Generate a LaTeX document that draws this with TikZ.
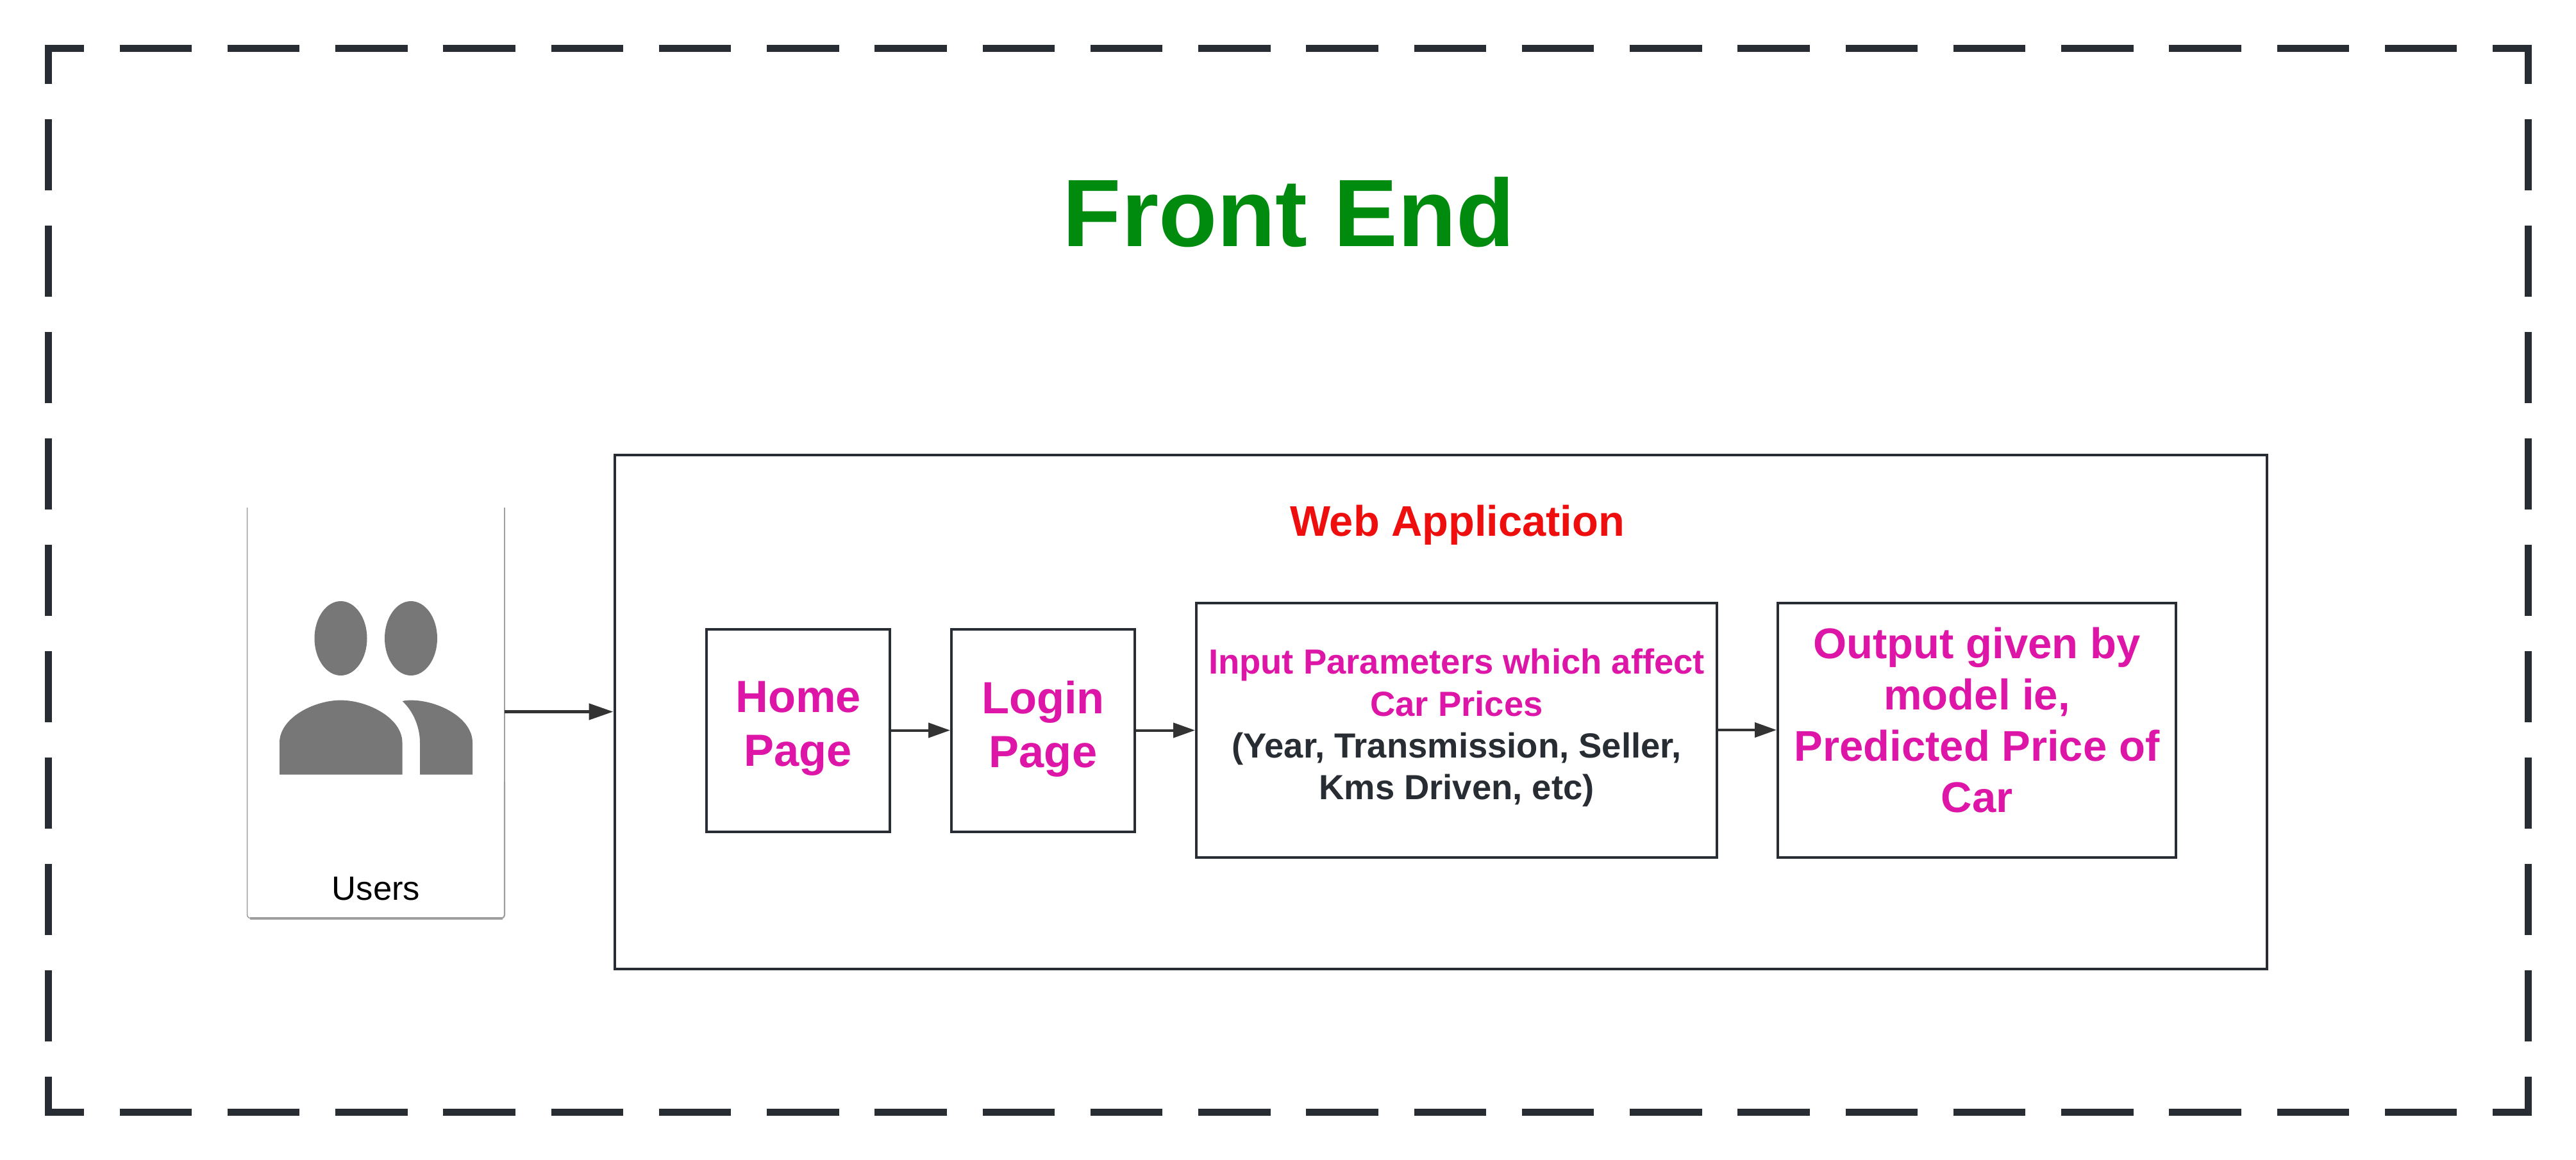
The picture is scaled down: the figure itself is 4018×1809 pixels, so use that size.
\documentclass[tikz,border=0pt]{standalone}
\usepackage{fontspec}
\setmainfont{Liberation Sans}
\usetikzlibrary{arrows.meta}
\definecolor{framec}{HTML}{282C33}
\definecolor{arrowc}{HTML}{333333}
\definecolor{magentac}{HTML}{DD16A8}
\definecolor{greenc}{HTML}{008A0E}
\definecolor{redc}{HTML}{EE0E0E}
\definecolor{iconc}{HTML}{777777}
\definecolor{cardc}{HTML}{9E9E9E}
\tikzset{
  frameh/.style={draw=framec,line width=5.5pt,line cap=butt,dash pattern=on 56.25pt off 27.87pt,dash phase=25.75pt},
  framev/.style={draw=framec,line width=5.5pt,line cap=butt,dash pattern=on 55.5pt off 27.5pt,dash phase=25pt},
  boxnode/.style={draw=framec,line width=2pt,fill=white,inner sep=0pt,align=center,font=\bfseries},
  flow/.style={draw=arrowc,line width=2pt,-{Triangle[length=17pt,width=11.5pt]}},
  flowbig/.style={draw=arrowc,line width=2.4pt,-{Triangle[length=19pt,width=12.5pt]}},
  cardline/.style={draw=cardc,line cap=butt},
}
\begin{document}
\begin{tikzpicture}[x=0.5pt,y=-0.5pt]
\useasboundingbox (0,0) rectangle (4018,1809);
% dashed outer frame
\path[frameh] (70,75.5) -- (3949,75.5);
\path[frameh] (70,1735.5) -- (3949,1735.5);
\path[framev] (75.5,70) -- (75.5,1741);
\path[framev] (3943.5,70) -- (3943.5,1741);
% title
\node[anchor=base,font=\fontsize{74.7}{80}\selectfont\bfseries,text=greenc,inner sep=0pt] (title) at (2010.5,384) {Front End};
% web application container
\node[boxnode,minimum width=1288.5pt,minimum height=401pt] (web) at (2247,1110.5) {};
\node[anchor=base,font=\fontsize{33.4}{40}\selectfont\bfseries,text=redc,inner sep=0pt] (webt) at (2273,836) {Web Application};
% users card
\node[minimum width=201pt,minimum height=321pt,inner sep=0pt] (users) at (586,1113) {};
\draw[cardline,line width=0.75pt,rounded corners=3pt] (385.5,792) -- (385.5,1433) -- (600,1433);
\draw[cardline,line width=0.75pt] (787,792) -- (787,1220);
\draw[cardline,line width=1.1pt,rounded corners=3pt] (787,1220) -- (787,1433) -- (560,1433);
\draw[cardc,line width=2.2pt] (390,1433) -- (784,1433);
\node[anchor=base,font=\fontsize{26.3}{30}\selectfont,text=black,inner sep=0pt] (userst) at (586.5,1404) {Users};
% users icon
\fill[iconc] (531.5,996) ellipse [x radius=41,y radius=58];
\fill[iconc] (641,996) ellipse [x radius=41,y radius=58];
\fill[iconc] (436,1208.7) -- (436,1158.7) .. controls (436,1120) and (490,1092.6) .. (531.5,1092.6) .. controls (573,1092.6) and (627.5,1120) .. (627.5,1158.7) -- (627.5,1208.7) -- cycle;
\fill[iconc] (627.5,1094) .. controls (632,1093) and (636,1092.6) .. (641,1092.6) .. controls (683,1092.6) and (737,1120) .. (737,1158.7) -- (737,1208.7) -- (655,1208.7) -- (655,1158.7) .. controls (655,1135) and (645,1110) .. (627.5,1094) -- cycle;
% flow boxes
\node[boxnode,minimum width=143pt,minimum height=158pt,text=magentac,font=\fontsize{35.2}{42}\selectfont\bfseries] (home) at (1245,1139.5) {Home\\Page\rule[-10pt]{0pt}{0pt}};
\node[boxnode,minimum width=143pt,minimum height=158pt,text=magentac,font=\fontsize{35.2}{42}\selectfont\bfseries] (login) at (1627,1139.5) {Login\\Page\rule[-10pt]{0pt}{0pt}};
\node[boxnode,minimum width=406pt,minimum height=198.5pt,text=framec,font=\fontsize{27.2}{32.6}\selectfont\bfseries] (input) at (2272,1139) {\textcolor{magentac}{Input Parameters which affect}\\\textcolor{magentac}{Car Prices}\\(Year, Transmission, Seller,\\Kms Driven, etc)\rule[-9pt]{0pt}{0pt}};
\node[boxnode,minimum width=310.5pt,minimum height=198.5pt,text=magentac,font=\fontsize{33.5}{40}\selectfont\bfseries] (output) at (3083.5,1139) {Output given by\\model ie,\\Predicted Price of\\Car\rule[-16pt]{0pt}{0pt}};
% connectors
\draw[flowbig] (users.east |- web.west) -- (web.west);
\draw[flow] (home) -- (login);
\draw[flow] (login) -- (login -| input.west);
\draw[flow] (input) -- (output);
\end{tikzpicture}
\end{document}
